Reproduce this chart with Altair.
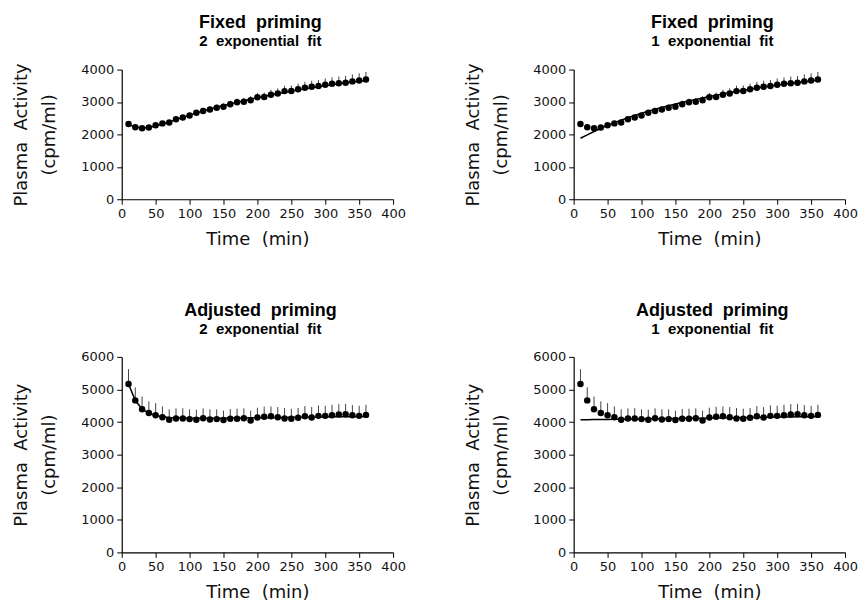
import altair as alt
import pandas as pd

times = [10, 20, 30, 40, 50, 60, 70, 80, 90, 100, 110, 120, 130, 140, 150, 160, 170, 180,
         190, 200, 210, 220, 230, 240, 250, 260, 270, 280, 290, 300, 310, 320, 330, 340, 350, 360]

fixed_mean = [2320, 2220, 2190, 2210, 2280, 2340, 2370, 2470, 2520, 2585, 2665, 2720, 2770, 2820,
              2850, 2930, 2990, 3005, 3055, 3145, 3155, 3225, 3260, 3335, 3340, 3390, 3440, 3470,
              3490, 3530, 3560, 3580, 3595, 3635, 3665, 3695]
fixed_se = [50, 50, 55, 55, 60, 60, 65, 70, 75, 80, 85, 90, 95, 100, 105, 110, 115, 120,
            125, 135, 140, 150, 160, 165, 170, 175, 180, 185, 190, 195, 200, 205, 210, 215, 220, 230]
fixed_fit2 = [2310, 2230, 2200, 2215, 2260, 2320, 2385, 2455, 2525, 2595, 2660, 2720, 2780, 2835,
              2890, 2940, 2990, 3040, 3085, 3130, 3175, 3215, 3255, 3295, 3335, 3370, 3405, 3440,
              3470, 3500, 3530, 3560, 3590, 3615, 3640, 3665]
fixed_fit1 = [1880, 1985, 2090, 2190, 2280, 2360, 2440, 2515, 2585, 2650, 2715, 2775, 2830, 2885,
              2935, 2985, 3035, 3080, 3125, 3170, 3210, 3250, 3290, 3325, 3360, 3395, 3430, 3460,
              3490, 3520, 3550, 3575, 3600, 3625, 3650, 3675]

adj_mean = [5170, 4665, 4395, 4275, 4210, 4150, 4070, 4110, 4110, 4090, 4070, 4120, 4080, 4090,
            4060, 4100, 4100, 4120, 4050, 4140, 4160, 4180, 4150, 4110, 4100, 4130, 4180, 4140,
            4190, 4190, 4210, 4230, 4240, 4210, 4190, 4220]
adj_se = [455, 400, 390, 360, 370, 330, 320, 310, 315, 300, 310, 300, 310, 300, 290, 300, 310, 300,
          300, 300, 310, 300, 310, 320, 310, 300, 310, 320, 320, 310, 320, 320, 320, 310, 310, 310]
adj_fit2 = [5170, 4660, 4400, 4270, 4200, 4160, 4140, 4130, 4125, 4120, 4120, 4120, 4120, 4120,
            4120, 4125, 4125, 4125, 4130, 4130, 4135, 4135, 4140, 4140, 4145, 4145, 4150, 4150,
            4155, 4155, 4160, 4160, 4165, 4165, 4170, 4170]
adj_fit1 = [4070, 4072, 4075, 4078, 4080, 4083, 4086, 4089, 4092, 4095, 4098, 4100, 4103, 4106,
            4109, 4112, 4115, 4118, 4120, 4123, 4126, 4129, 4132, 4135, 4138, 4140, 4143, 4146,
            4149, 4152, 4155, 4158, 4160, 4163, 4166, 4170]

x_ticks = [0, 50, 100, 150, 200, 250, 300, 350, 400]
y_ticks_fixed = [0, 1000, 2000, 3000, 4000]
y_ticks_adj = [0, 1000, 2000, 3000, 4000, 5000, 6000]

TITLE_FONT = "Liberation Sans"
AXIS_FONT = "DejaVu Sans"
SP = "\u00a0"


def panel(mean, se, fit, title, subtitle, ymax, yticks, h):
    df = pd.DataFrame({"t": times, "mean": mean,
                       "top": [m + s for m, s in zip(mean, se)], "fit": fit})
    xaxis = alt.Axis(values=x_ticks, title=f"Time{SP}{SP}(min)", format="d",
                     labelOverlap=False, labelFlush=False)
    yaxis = alt.Axis(values=yticks, title=[f"Plasma{SP}{SP}Activity", "(cpm/ml)"],
                     format="d", labelOverlap=False, labelFlush=False)
    xs = alt.Scale(domain=[0, 400], nice=False)
    ys = alt.Scale(domain=[0, ymax], nice=False)
    x = alt.X("t:Q", scale=xs, axis=xaxis)
    base = alt.Chart(df)
    err = base.mark_rule(color="#444", strokeWidth=1).encode(
        x=x, y=alt.Y("mean:Q", scale=ys, axis=yaxis), y2="top:Q")
    line = base.mark_line(color="black", strokeWidth=1.5).encode(
        x=x, y=alt.Y("fit:Q", scale=ys, axis=yaxis))
    pts = base.mark_circle(color="black", opacity=1, size=42).encode(
        x=x, y=alt.Y("mean:Q", scale=ys, axis=yaxis))
    return alt.layer(err, line, pts).properties(
        width=272, height=h,
        title=alt.TitleParams(
            text=title, subtitle=subtitle, font=TITLE_FONT, fontSize=18, fontWeight="bold",
            subtitleFont=TITLE_FONT, subtitleFontSize=15, subtitleFontWeight="bold",
            subtitleColor="black", subtitlePadding=2, offset=14, anchor="middle", frame="group",
            color="black", dx=3),
    )


p1 = panel(fixed_mean, fixed_se, fixed_fit2, f"Fixed{SP}{SP}priming", f"2{SP}{SP}exponential{SP}{SP}fit",
           4000, y_ticks_fixed, 130)
p2 = panel(fixed_mean, fixed_se, fixed_fit1, f"Fixed{SP}{SP}priming", f"1{SP}{SP}exponential{SP}{SP}fit",
           4000, y_ticks_fixed, 130)
p3 = panel(adj_mean, adj_se, adj_fit2, f"Adjusted{SP}{SP}priming", f"2{SP}{SP}exponential{SP}{SP}fit",
           6000, y_ticks_adj, 196)
p4 = panel(adj_mean, adj_se, adj_fit1, f"Adjusted{SP}{SP}priming", f"1{SP}{SP}exponential{SP}{SP}fit",
           6000, y_ticks_adj, 196)

chart = alt.vconcat(
    alt.hconcat(p1, p2, spacing=58),
    alt.hconcat(p3, p4, spacing=58),
    spacing=54,
).properties(
    padding={"left": 4, "right": 0, "top": 5, "bottom": 0}
).configure_view(stroke=None).configure_axis(
    grid=False, domainColor="black", tickColor="black", tickSize=5, domainWidth=1.2,
    labelFont=AXIS_FONT, labelFontSize=13, labelColor="#111", labelPadding=3,
    titleFont=AXIS_FONT, titleFontSize=18, titleFontWeight="normal", titleColor="#111",
    titleLineHeight=28,
).configure_axisX(titlePadding=10).configure_axisY(titlePadding=22)

chart.save("out.html", embed_options={"renderer": "svg", "actions": False})
